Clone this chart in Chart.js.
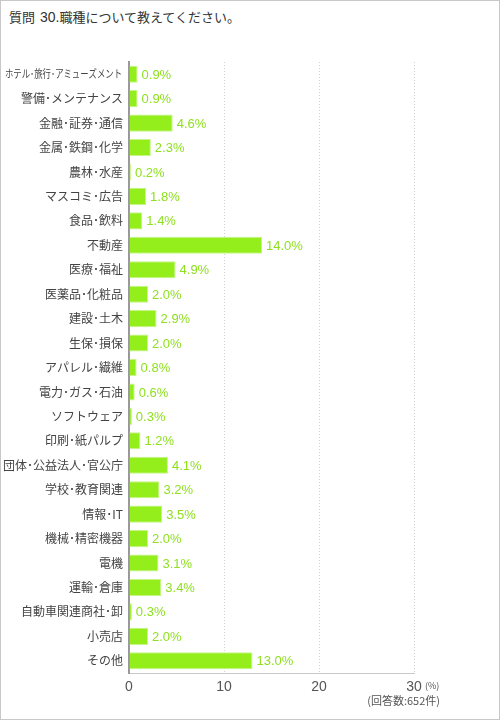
<!doctype html>
<html lang="ja">
<head>
<meta charset="UTF-8" />
<title>職種</title>
<script src="https://cdn.jsdelivr.net/npm/chart.js"></script>
<style>
    html, body { margin: 0; padding: 0; background: #fff; }
    .frame {
        position: relative;
        width: 498px;
        height: 718px;
        border: 1px solid #c8c8c8;
        font-family: "Noto Sans CJK JP", sans-serif;
    }
    .title {
        position: absolute;
        left: 8px;
        top: 6px;
        font-size: 13px;
        color: #333;
    }
    .title .num { font-family: "Liberation Sans", sans-serif; font-size: 14px; margin-left: 2px; }
    #wrap { position: absolute; left: -1px; top: -1px; width: 500px; height: 720px; }
</style>
</head>
<body>
<div class="frame">
    <div class="title">質問 <span class="num">30.</span>職種について教えてください。</div>
    <div id="wrap"><canvas id="myChart"></canvas></div>
</div>
<script>
    const categories = [
        'ホテル･旅行･アミューズメント', '警備･メンテナンス', '金融･証券･通信', '金属･鉄鋼･化学',
        '農林･水産', 'マスコミ･広告', '食品･飲料', '不動産', '医療･福祉', '医薬品･化粧品',
        '建設･土木', '生保･損保', 'アパレル･繊維', '電力･ガス･石油', 'ソフトウェア',
        '印刷･紙パルプ', '団体･公益法人･官公庁', '学校･教育関連', '情報･IT', '機械･精密機器',
        '電機', '運輸･倉庫', '自動車関連商社･卸', '小売店', 'その他'
    ];
    const shares = [
        0.9, 0.9, 4.6, 2.3, 0.2, 1.8, 1.4, 14.0, 4.9, 2.0,
        2.9, 2.0, 0.8, 0.6, 0.3, 1.2, 4.1, 3.2, 3.5, 2.0,
        3.1, 3.4, 0.3, 2.0, 13.0
    ];
    const xTicks = [0, 10, 20, 30];
    const unitLabel = '(%)';
    const countLabel = '(回答数:652件)';

    const green = '#94ee1b';
    const latin = '"Liberation Sans", "Noto Sans CJK JP", sans-serif';
    const jp = '"Noto Sans CJK JP", sans-serif';
    const labelRoom = 117; // width a category label may use left of the axis

    // value labels at the end of each bar
    const valueLabels = {
        id: 'valueLabels',
        afterDatasetsDraw(chart) {
            const c = chart.ctx;
            const meta = chart.getDatasetMeta(0);
            c.save();
            c.fillStyle = '#8fe020';
            c.font = '13px ' + latin;
            c.textBaseline = 'middle';
            c.textAlign = 'left';
            meta.data.forEach((bar, i) => {
                c.fillText(shares[i].toFixed(1) + '%', bar.x + 4, bar.y + 1);
            });
            c.restore();
        }
    };

    // labels too long for the axis are squeezed sideways, like the original
    const longLabels = {
        id: 'longLabels',
        afterDraw(chart) {
            const c = chart.ctx;
            const y = chart.scales.y;
            c.save();
            c.fillStyle = '#444';
            c.font = '11px ' + jp;
            c.textBaseline = 'middle';
            c.textAlign = 'right';
            categories.forEach((name, i) => {
                const w = c.measureText(name).width;
                if (w <= labelRoom) return;
                c.save();
                c.translate(y.right - 7, y.getPixelForValue(i));
                c.scale(labelRoom / w, 1);
                c.fillText(name, 0, 0);
                c.restore();
            });
            c.restore();
        }
    };

    // unit and response count under the axis
    const axisNotes = {
        id: 'axisNotes',
        afterDraw(chart) {
            const c = chart.ctx;
            const x = chart.scales.x;
            const right = x.getPixelForValue(30);
            c.save();
            c.fillStyle = '#555';
            c.textBaseline = 'middle';
            c.textAlign = 'left';
            c.font = '9px ' + jp;
            c.fillText(unitLabel, right + 11, 686);
            c.textAlign = 'right';
            c.font = '11px ' + jp;
            c.fillText(countLabel, right + 26, 701);
            c.restore();
        }
    };

    const ctx = document.getElementById('myChart');
    new Chart(ctx, {
        type: 'bar',
        data: {
            labels: categories,
            datasets: [{
                data: shares,
                backgroundColor: green,
                borderColor: '#c4f585',
                borderWidth: 1,
                borderSkipped: 'left',
                categoryPercentage: 1,
                barPercentage: 0.7
            }]
        },
        options: {
            indexAxis: 'y',
            responsive: true,
            maintainAspectRatio: false,
            animation: false,
            layout: { padding: { top: 62, right: 86, bottom: 0, left: 0 } },
            plugins: {
                legend: { display: false },
                tooltip: { enabled: false }
            },
            scales: {
                x: {
                    min: 0,
                    max: 30,
                    afterBuildTicks(axis) {
                        axis.ticks = xTicks.map(v => ({ value: v }));
                    },
                    afterFit(axis) { axis.height = 47; },
                    grid: {
                        drawTicks: false,
                        color: c => c.tick && c.tick.value === 0 ? 'rgba(0,0,0,0)' : '#cfcfcf',
                        lineWidth: 1
                    },
                    border: { display: true, color: '#c8c8c8', width: 1, dash: [1, 2] },
                    ticks: {
                        padding: 6,
                        color: '#555',
                        font: { family: latin, size: 14 }
                    }
                },
                y: {
                    afterFit(axis) { axis.width = 129; },
                    grid: { display: false, drawTicks: false },
                    border: { display: true, color: '#999', width: 2 },
                    ticks: {
                        padding: 6,
                        color: '#444',
                        autoSkip: false,
                        font: { family: jp, size: 12 },
                        // long names are drawn by the longLabels plugin instead
                        callback(value, i) {
                            return categories[i].length > 12 ? '' : categories[i];
                        }
                    }
                }
            }
        },
        plugins: [valueLabels, longLabels, axisNotes]
    });
</script>
</body>
</html>
